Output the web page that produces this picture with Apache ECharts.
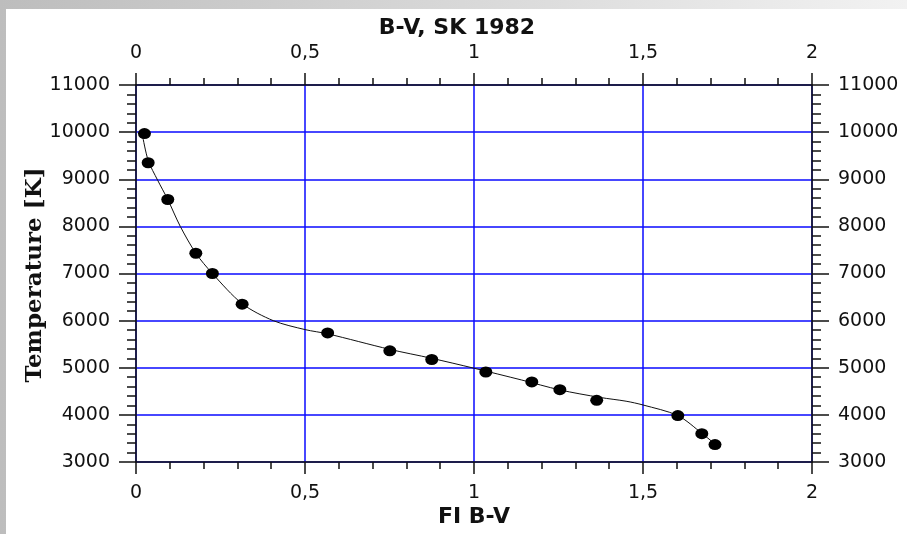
<!DOCTYPE html>
<html>
<head>
<meta charset="utf-8">
<script src="https://cdn.jsdelivr.net/npm/echarts@6/dist/echarts.min.js"></script>
<style>
html,body{margin:0;padding:0;}
#c{width:907px;height:534px;background:linear-gradient(to right,#bdbdbd,#f2f2f2);}
</style>
</head>
<body>
<div id="c"></div>
<script>
// Measured points: FI B-V colour vs temperature
const pointBV = [0.025, 0.036, 0.094, 0.177, 0.226, 0.314, 0.567, 0.751, 0.875, 1.035, 1.171, 1.254, 1.363, 1.603, 1.674, 1.713];
const pointT  = [9970, 9350, 8570, 7430, 7000, 6350, 5740, 5360, 5175, 4910, 4700, 4535, 4310, 3985, 3600, 3370];
// Fitted calibration curve
const curveBV = [0.02, 0.036, 0.064, 0.094, 0.131, 0.177, 0.226, 0.314, 0.406, 0.5, 0.567, 0.751, 0.875, 1.0, 1.141, 1.254, 1.373, 1.45, 1.5, 1.603, 1.674, 1.713];
const curveT  = [9900, 9400, 8980, 8570, 8000, 7430, 7000, 6360, 6000, 5810, 5720, 5390, 5200, 4990, 4740, 4530, 4370, 4290, 4210, 3985, 3610, 3380];
const titleTop = 'B-V, SK 1982';
const titleBottom = 'FI B-V';
const titleLeft = 'Temperature [K]';

const chart = echarts.init(document.getElementById('c'), null, {renderer:'canvas'});
const fmt = v => String(v).replace('.', ',');
const labelStyle = {fontFamily:'DejaVu Sans', fontSize:19, color:'#111'};
const axLine = {show:true, onZero:false, lineStyle:{color:'#111', width:1.5}};
const blue = {show:true, lineStyle:{color:'#0a0aff', width:1.5}};

const xCommon = {
  type:'value', min:0, max:2, interval:0.5,
  axisLine: axLine,
  axisTick:{show:true, inside:false, length:12, lineStyle:{color:'#111', width:1.5}},
  minorTick:{show:true, splitNumber:5, length:7, lineStyle:{color:'#111', width:1.5}},
  axisLabel:Object.assign({margin:22, formatter:fmt}, labelStyle)
};
const yCommon = {
  type:'value', min:3000, max:11000, interval:1000,
  axisLine: axLine,
  axisTick:{show:true, inside:false, length:17, lineStyle:{color:'#111', width:1.5}},
  minorTick:{show:true, splitNumber:5, length:9, lineStyle:{color:'#111', width:1.5}},
  axisLabel:Object.assign({margin:26, formatter:v => String(v)}, labelStyle)
};

chart.setOption({
  animation:false,
  backgroundColor:'transparent',
  graphic:[
    {type:'rect', z:-10, shape:{x:6, y:9, width:901, height:525}, style:{fill:'#fff'}},
    {type:'text', x:457, y:28, style:{text:titleTop, fontFamily:'DejaVu Sans', fontWeight:'bold', fontSize:22, fill:'#111', align:'center', verticalAlign:'middle'}},
    {type:'text', x:474, y:517, style:{text:titleBottom, fontFamily:'DejaVu Sans', fontWeight:'bold', fontSize:22, fill:'#111', align:'center', verticalAlign:'middle'}},
    {type:'text', x:35, y:275, rotation:Math.PI/2, style:{text:titleLeft, fontFamily:'DejaVu Serif', fontWeight:'bold', fontSize:23, fill:'#111', align:'center', verticalAlign:'middle'}}
  ],
  grid:{left:136, right:95, top:85, bottom:72, containLabel:false},
  xAxis:[
    Object.assign({position:'bottom', splitLine:blue}, xCommon),
    Object.assign({position:'top', splitLine:{show:false}}, xCommon)
  ],
  yAxis:[
    Object.assign({position:'left', splitLine:blue}, yCommon),
    Object.assign({position:'right', splitLine:{show:false}}, yCommon)
  ],
  series:[
    {type:'line', xAxisIndex:0, yAxisIndex:0, smooth:0.3, showSymbol:false, symbol:'none',
     lineStyle:{color:'#111', width:1}, data:curveBV.map((x,i)=>[x, curveT[i]]), z:2},
    {type:'scatter', xAxisIndex:0, yAxisIndex:0, symbol:'circle', symbolSize:[13,11],
     itemStyle:{color:'#000', opacity:1}, data:pointBV.map((x,i)=>[x, pointT[i]]), z:3}
  ]
});
</script>
</body>
</html>
